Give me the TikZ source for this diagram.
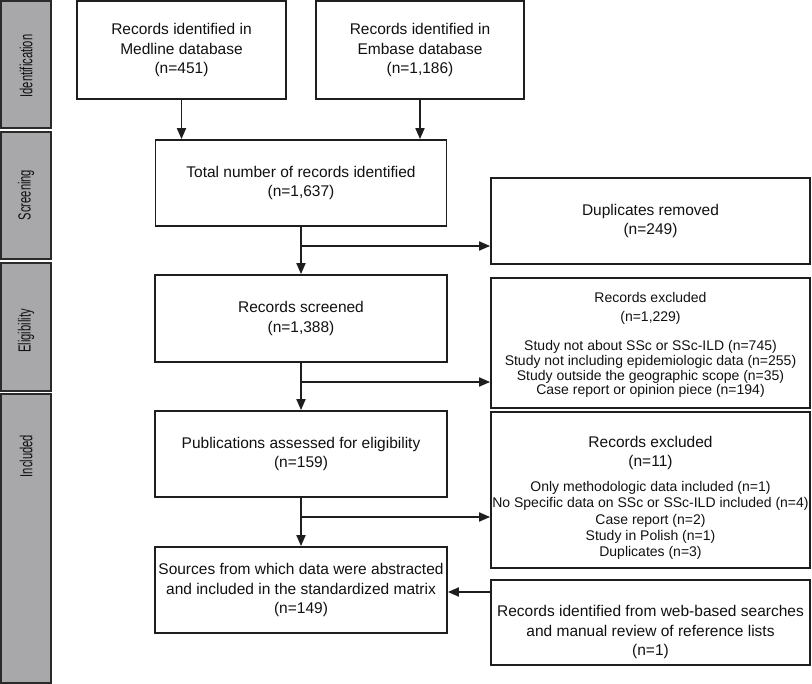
\documentclass[tikz,border=0pt]{standalone}
\usepackage{fontspec}
\setmainfont{Liberation Sans}
\usetikzlibrary{arrows.meta}
\definecolor{linec}{HTML}{1E1E1E}
\definecolor{textc}{HTML}{111111}
\definecolor{sidefill}{HTML}{A8A8AB}
\definecolor{sidec}{HTML}{2A2A2A}
\begin{document}
\begin{tikzpicture}[x=1pt,y=-1pt,
  box/.style={draw=linec, line width=1.8pt, fill=white, align=center, inner sep=0pt,
    font=\fontsize{15.5}{19.5}\selectfont, text=textc},
  txt/.style={align=center, inner sep=0pt, font=\fontsize{15.5}{19.5}\selectfont, text=textc},
  side/.style={draw=sidec, line width=1.8pt, fill=sidefill, minimum width=50pt, inner sep=0pt},
  sidetxt/.style={rotate=90, inner sep=0pt, font=\fontsize{17.5}{20}\selectfont, text=textc},
  arr/.style={draw=linec, line width=1.8pt, -{Triangle[length=11pt,width=9pt]}}]
\useasboundingbox (0,0) rectangle (812,684);

% sidebar
\node[side, minimum height=127pt] (s1) at (26,64.5) {};
\node[side, minimum height=127pt] (s2) at (26,195.5) {};
\node[side, minimum height=128pt] (s3) at (26,327) {};
\node[side, minimum height=289pt] (s4) at (26,538.5) {};
\node[sidetxt] (t1) at (26,66) {\scalebox{0.64}[1]{Identification}};
\node[sidetxt] (t2) at (26,195) {\scalebox{0.64}[1]{Screening}};
\node[sidetxt] (t3) at (26,331) {\scalebox{0.64}[1]{Eligibility}};
\node[sidetxt] (t4) at (26,456) {\scalebox{0.64}[1]{Included}};

% main boxes
\node[box, minimum width=209pt, minimum height=98pt] (med) at (181.5,50)
  {Records identified in\\Medline database\\(n=451)};
\node[box, minimum width=208pt, minimum height=98pt] (emb) at (420,50)
  {Records identified in\\Embase database\\(n=1,186)};
\node[box, minimum width=291pt, minimum height=86pt] (tot) at (301,183)
  {Total number of records identified\\(n=1,637)};
\node[box, minimum width=319pt, minimum height=86pt] (dup) at (650.5,221)
  {Duplicates removed\\(n=249)};
\node[box, minimum width=292pt, minimum height=87pt] (scr) at (301,318.5)
  {Records screened\\(n=1,388)};
\node[box, minimum width=319pt, minimum height=130pt] (ex1) at (650.5,343) {};
\node[txt, font=\fontsize{14}{19}\selectfont] (ex1h) at (650.5,308.5)
  {Records excluded\\(n=1,229)};
\node[txt, font=\fontsize{14}{14.8}\selectfont] (ex1t) at (650.5,369)
  {Study not about SSc or SSc-ILD (n=745)\\
   Study not including epidemiologic data (n=255)\\
   Study outside the geographic scope (n=35)\\
   Case report or opinion piece (n=194)};
\node[box, minimum width=292pt, minimum height=86pt] (pub) at (301,454)
  {Publications assessed for eligibility\\(n=159)};
\node[box, minimum width=319pt, minimum height=156pt] (ex2) at (650.5,490) {};
\node[txt] (ex2h) at (650.5,453)
  {Records excluded\\(n=11)};
\node[txt, font=\fontsize{14}{16.3}\selectfont] (ex2t) at (650.5,520.5)
  {Only methodologic data included (n=1)\\
   No Specific data on SSc or SSc-ILD included (n=4)\\
   Case report (n=2)\\
   Study in Polish (n=1)\\
   Duplicates (n=3)};
\node[box, minimum width=292pt, minimum height=86pt] (src) at (301,590)
  {Sources from which data were abstracted\\and included in the standardized matrix\\(n=149)};
\node[box, minimum width=319pt, minimum height=85pt] (web) at (650.5,622.5) {};
\node[txt] (webt) at (650.5,632)
  {Records identified from web-based searches\\and manual review of reference lists\\(n=1)};

% connectors
\draw[arr] (med.south) -- (med.south |- tot.north);
\draw[arr] (emb.south) -- (emb.south |- tot.north);
\draw[arr] (tot.south) -- (scr.north);
\coordinate (b1) at (301,246);
\draw[arr] (b1) -- (b1 -| dup.west);
\draw[arr] (scr.south) -- (pub.north);
\coordinate (b2) at (301,382);
\draw[arr] (b2) -- (b2 -| ex1.west);
\draw[arr] (pub.south) -- (src.north);
\coordinate (b3) at (301,517);
\draw[arr] (b3) -- (b3 -| ex2.west);
\coordinate (b4) at (470,592);
\draw[arr] (b4 -| web.west) -- (b4 -| src.east);
\end{tikzpicture}
\end{document}
